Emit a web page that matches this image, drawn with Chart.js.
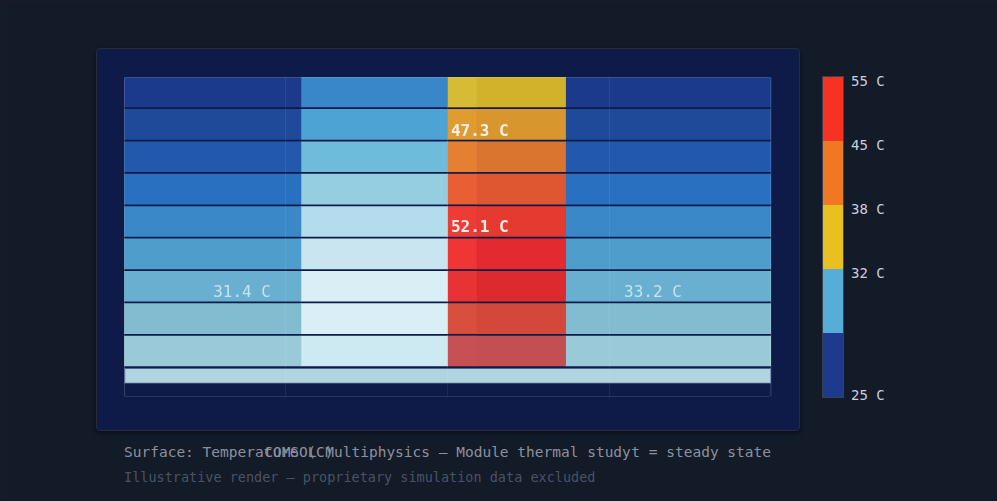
<!DOCTYPE html>
<html>
<head>
<meta charset="utf-8">
<script src="https://cdn.jsdelivr.net/npm/chart.js@4.4.1/dist/chart.umd.min.js"></script>
<style>
  html, body { margin: 0; padding: 0; }
  body {
    width: 997px; height: 501px; position: relative; overflow: hidden;
    background: #151b29;
    font-family: 'DejaVu Sans Mono', monospace;
  }
  .page { position: absolute; left: 7px; top: 4px; right: 0; bottom: 0; background: #131a28; }
  .panel {
    position: absolute; left: 96px; top: 48px; width: 702px; height: 381px;
    background: #0e1a48; border: 1px solid #272d3b; border-radius: 4px;
    box-shadow: 0 2px 4px rgba(0, 0, 0, 0.45);
  }
  .plot { position: absolute; left: 120px; top: 73px; width: 655px; height: 328px; }
  .cbar {
    position: absolute; left: 823px; top: 77px; width: 20px; height: 320px;
    display: flex; flex-direction: column; outline: 1px solid #3a4150;
  }
  .cbar div { flex: 1; }
  .cbar-label {
    position: absolute; left: 851px; font-size: 14px; line-height: 16px;
    color: #c9d0db; white-space: nowrap;
  }
  .caption {
    position: absolute; left: 124px; top: 443px; width: 647px; height: 18px;
    font-size: 14.5px; line-height: 18px; color: #8b929f; white-space: nowrap;
  }
  .caption span { position: absolute; top: 0; }
  .caption .c { left: 50%; transform: translateX(-50%); }
  .caption .r { right: 0; }
  .note {
    position: absolute; left: 124px; top: 469px; font-size: 13.5px; line-height: 16px;
    color: #4a5365; white-space: nowrap;
  }
</style>
</head>
<body>
<div class="page"></div>
<div class="panel"></div>
<div class="plot"><canvas id="heat"></canvas></div>
<div class="cbar" id="cbar"></div>
<div class="caption">
  <span class="l">Surface: Temperature (C)</span>
  <span class="c">COMSOL Multiphysics — Module thermal study</span>
  <span class="r">t = steady state</span>
</div>
<div class="note">Illustrative render — proprietary simulation data excluded</div>

<script>
// module rows (top to bottom) and the base plate
const rowPos = [1, 2, 3, 4, 5, 6, 7, 8, 9];
const platePos = [9.77];

// x edges of the zones across the module: cell | fin | hotspot edge | hotspot | cell
const zoneEdges = [0, 1.094, 2.0, 2.18, 2.73, 4.0];

// cell colours per row
const cellColors = ['#1b3a8b', '#1f4a9a', '#2259ad', '#2a70c0', '#3a88c8', '#4f9dcb', '#68afd0', '#82bcd0', '#9acad8'];
const finColors = ['#3987c9', '#4da3d3', '#6fbbdb', '#96cee1', '#b3ddec', '#c8e5f0', '#d9eff5', '#d9eff5', '#cde9f2'];
const edgeColors = ['#d6bc35', '#e09c30', '#e58032', '#ea5e33', '#ee3b35', '#ef3536', '#e83334', '#d84f3e', '#c65053'];
const hotColors = ['#d2b22a', '#d8962e', '#da7530', '#df5731', '#e43a30', '#e22a30', '#dc2a2f', '#d3483b', '#c34f52'];
const plateColor = '#b0d4e0';

// probe labels
const probeText = ['47.3 C', '52.1 C', '31.4 C', '33.2 C'];
const probeX = [2.2, 2.2, 0.73, 3.27];
const probeY = [2.24, 5.2, 7.22, 7.22];
const probeHot = [true, true, false, false];

// colour bar
const barColors = ['#f83222', '#f07822', '#e8c020', '#58acd8', '#1e3a8e'];
const barTicks = ['55 C', '45 C', '38 C', '32 C', '25 C'];

const zoneColors = [cellColors, finColors, edgeColors, hotColors, cellColors];

const datasets = zoneColors.map((colors, i) => ({
    data: rowPos.map(y => ({ x: [zoneEdges[i], zoneEdges[i + 1]], y: y })),
    backgroundColor: colors,
    barThickness: 30,
    borderWidth: 0
}));
datasets.push({
    data: platePos.map(y => ({ x: [zoneEdges[0], zoneEdges[zoneEdges.length - 1]], y: y })),
    backgroundColor: plateColor,
    barThickness: 15,
    borderWidth: 1,
    borderSkipped: false,
    borderColor: 'rgba(120, 150, 200, 0.6)'
});

const framePlugin = {
    id: 'frame',
    afterDatasetsDraw(chart) {
        const { ctx, chartArea: a } = chart;
        ctx.save();
        ctx.strokeStyle = 'rgba(255, 255, 255, 0.12)';
        ctx.lineWidth = 1;
        ctx.beginPath();
        ctx.roundRect(a.left + 0.5, a.top + 0.5, a.width - 1, a.height - 1, 2);
        ctx.stroke();
        ctx.restore();
    }
};

const probePlugin = {
    id: 'probes',
    afterDraw(chart) {
        const { ctx, scales } = chart;
        ctx.save();
        ctx.textAlign = 'center';
        ctx.textBaseline = 'middle';
        probeText.forEach((t, i) => {
            ctx.font = (probeHot[i] ? 'bold ' : '') + '16px "DejaVu Sans Mono"';
            ctx.fillStyle = probeHot[i] ? '#fbf1e8' : 'rgba(215, 236, 246, 0.85)';
            ctx.fillText(t, scales.x.getPixelForValue(probeX[i]), scales.y.getPixelForValue(probeY[i]));
        });
        ctx.restore();
    }
};

new Chart(document.getElementById('heat'), {
    type: 'bar',
    data: { datasets: datasets },
    options: {
        indexAxis: 'y',
        responsive: true,
        maintainAspectRatio: false,
        animation: false,
        events: [],
        layout: { padding: 4 },
        datasets: { bar: { grouped: false } },
        plugins: { legend: { display: false }, tooltip: { enabled: false } },
        scales: {
            x: {
                type: 'linear', min: 0, max: 4,
                ticks: { display: false, stepSize: 1 },
                grid: { color: 'rgba(255, 255, 255, 0.07)', drawTicks: false, z: 1 },
                border: { display: false }
            },
            y: {
                type: 'linear', min: 0.5366, max: 10.4224, reverse: true,
                offset: false,
                display: false
            }
        }
    },
    plugins: [framePlugin, probePlugin]
});

// colour bar legend
const cbar = document.getElementById('cbar');
barColors.forEach(c => {
    const d = document.createElement('div');
    d.style.background = c;
    cbar.appendChild(d);
});
const cbTop = 77, cbH = 320, band = cbH / barColors.length;
barTicks.forEach((t, k) => {
    const l = document.createElement('div');
    l.className = 'cbar-label';
    l.textContent = t;
    const center = k < barTicks.length - 1 ? cbTop + k * band + 4 : cbTop + cbH - 2;
    l.style.top = (center - 8) + 'px';
    document.body.appendChild(l);
});
</script>
</body>
</html>
